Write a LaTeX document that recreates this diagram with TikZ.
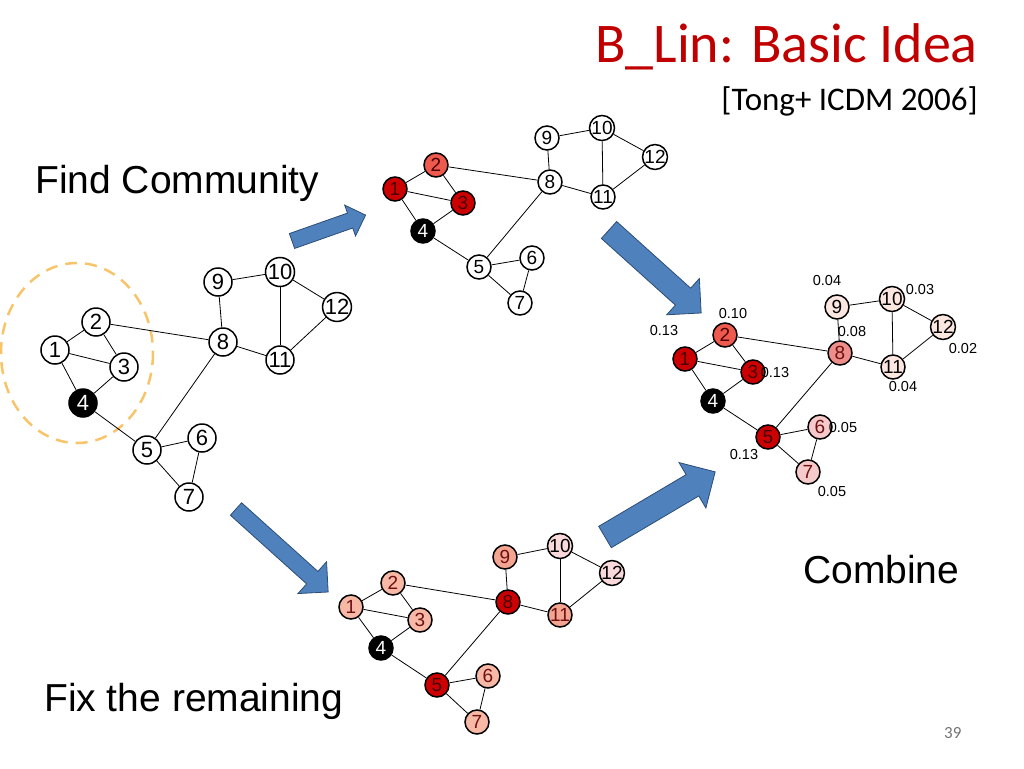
\documentclass[tikz,border=0pt]{standalone}
\usepackage{fontspec}
\setmainfont{Liberation Sans}
\newfontfamily\slidefont{Carlito}
\usetikzlibrary{shapes.arrows}

\definecolor{titlered}{HTML}{C00000}
\definecolor{arrowblue}{HTML}{4F81BD}
\definecolor{arrowline}{HTML}{2C4D75}
\definecolor{ringorange}{HTML}{F7C46A}
\definecolor{hot}{HTML}{CC0000}
\definecolor{warm}{HTML}{EE5A4E}
\definecolor{mid}{HTML}{EE8E8A}
\definecolor{pale}{HTML}{F6CACA}
\definecolor{faint}{HTML}{FCE6E0}
\definecolor{salmon}{HTML}{F7B8A6}
\definecolor{salmondeep}{HTML}{F3A592}
\definecolor{blush}{HTML}{F9D9DA}
\definecolor{inkred}{HTML}{6E1010}
\definecolor{inkdark}{HTML}{4A0000}

\tikzstyle{vtx}=[circle, draw, line width=1.5pt, fill=white, inner sep=0pt,
		minimum size=24pt, font=\fontsize{19}{19}\selectfont]
\tikzstyle{bigvtx}=[vtx, minimum size=28pt, font=\fontsize{22}{22}\selectfont]
\tikzstyle{seed}=[fill=black, text=white]
\tikzstyle{link}=[-, line width=0.8pt]
\tikzstyle{bigarrow}=[single arrow, draw=arrowline, fill=arrowblue,
		line width=0.8pt, inner xsep=0pt, outer sep=0pt, anchor=tail]
\tikzstyle{score}=[font=\fontsize{14.5}{14.5}\selectfont, inner sep=0pt]
\tikzstyle{caption}=[font=\fontsize{39}{39}\selectfont, anchor=base west,
		inner sep=0pt]

\begin{document}
\begin{tikzpicture}[x=1pt, y={(0pt,-1pt)}]

  \useasboundingbox (0,0) rectangle (1024,768);

  % title
  \node (Ttl) [anchor=base east, inner sep=0pt, text=titlered,
    font=\slidefont\fontsize{56}{56}\selectfont] at (978,63) {B\_Lin: Basic Idea};
  \node (Ref) [anchor=base east, inner sep=0pt,
    font=\slidefont\fontsize{33}{33}\selectfont] at (978,110) {[Tong+ ICDM 2006]};
  \node (Pg) [anchor=base west, inner sep=0pt, text=black!55,
    font=\slidefont\fontsize{17}{17}\selectfont] at (944,738) {39};

  % captions
  \node (Find) [caption] at (35,193) {Find Community};
  \node (Fix) [caption] at (44,711) {Fix the remaining};
  \node (Comb) [caption] at (803,583) {Combine};

  % input graph
  \draw [ringorange, line width=2.5pt, dash pattern=on 12pt off 8pt]
    (77,353) ellipse [x radius=76, y radius=90];
  \node (a1) [bigvtx] at (55,350) {1};
  \node (a2) [bigvtx] at (96,322) {2};
  \node (a3) [bigvtx] at (124,367) {3};
  \node (a4) [bigvtx, seed] at (83,403) {4};
  \node (a5) [bigvtx] at (147,450) {5};
  \node (a6) [bigvtx] at (202,438) {6};
  \node (a7) [bigvtx] at (189,497) {7};
  \node (a8) [bigvtx] at (223,342) {8};
  \node (a9) [bigvtx] at (218,282) {9};
  \node (a10) [bigvtx] at (280,272) {10};
  \node (a11) [bigvtx] at (280,360) {11};
  \node (a12) [bigvtx] at (337,307) {12};

  % community
  \node (f1) [vtx, fill=hot, text=inkdark] at (395,189) {1};
  \node (f2) [vtx, fill=warm, text=inkdark] at (436,165) {2};
  \node (f3) [vtx, fill=hot, text=inkdark] at (463,203) {3};
  \node (f4) [vtx, seed] at (423,231) {4};
  \node (f5) [vtx] at (479,267) {5};
  \node (f6) [vtx] at (532,258) {6};
  \node (f7) [vtx] at (520,303) {7};
  \node (f8) [vtx] at (550,182) {8};
  \node (f9) [vtx] at (547,138) {9};
  \node (f10) [vtx] at (602,128) {10};
  \node (f11) [vtx] at (603,197) {11};
  \node (f12) [vtx] at (655,157) {12};

  % remaining
  \node (r1) [vtx, fill=salmon, text=inkred] at (351,607) {1};
  \node (r2) [vtx, fill=salmon, text=inkred] at (393,583) {2};
  \node (r3) [vtx, fill=salmon, text=inkred] at (420,620) {3};
  \node (r4) [vtx, seed] at (381,648) {4};
  \node (r5) [vtx, fill=hot, text=inkdark] at (437,685) {5};
  \node (r6) [vtx, fill=salmon, text=inkred] at (488,676) {6};
  \node (r7) [vtx, fill=salmon, text=inkred] at (477,722) {7};
  \node (r8) [vtx, fill=hot, text=inkdark] at (508,602) {8};
  \node (r9) [vtx, fill=salmondeep, text=inkred] at (505,557) {9};
  \node (r10) [vtx, fill=blush] at (560,546) {10};
  \node (r11) [vtx, fill=salmondeep, text=inkred] at (560,615) {11};
  \node (r12) [vtx, fill=blush] at (612,573) {12};

  % combined
  \node (c1) [vtx, fill=hot, text=inkdark] at (685,359) {1};
  \node (c2) [vtx, fill=warm, text=inkdark] at (725,335) {2};
  \node (c3) [vtx, fill=hot, text=inkdark] at (753,372) {3};
  \node (c4) [vtx, seed] at (713,401) {4};
  \node (c5) [vtx, fill=hot, text=inkdark] at (768,437) {5};
  \node (c6) [vtx, fill=pale, text=inkred] at (820,427) {6};
  \node (c7) [vtx, fill=pale, text=inkred] at (808,472) {7};
  \node (c8) [vtx, fill=mid, text=inkred] at (840,353) {8};
  \node (c9) [vtx, fill=faint] at (837,307) {9};
  \node (c10) [vtx, fill=faint] at (892,299) {10};
  \node (c11) [vtx, fill=faint] at (893,367) {11};
  \node (c12) [vtx, fill=faint] at (943,327) {12};

  \foreach \g in {a,f,r,c}
    \foreach \u/\v in {1/2,1/3,2/3,1/4,3/4,4/5,2/8,5/8,5/6,5/7,6/7,
                       8/9,8/11,9/10,10/11,10/12,11/12}
      \draw [link] (\g\u) -- (\g\v);

  % scores
  \node (s1) [score] at (664,331) {0.13};
  \node (s2) [score] at (733,314) {0.10};
  \node (s3) [score] at (775,373) {0.13};
  \node (s5) [score] at (744,455) {0.13};
  \node (s6) [score] at (843,428) {0.05};
  \node (s7) [score] at (832,492) {0.05};
  \node (s8) [score] at (852,332) {0.08};
  \node (s9) [score] at (827,281) {0.04};
  \node (s10) [score] at (920,290) {0.03};
  \node (s11) [score] at (903,387) {0.04};
  \node (s12) [score] at (963,349) {0.02};

  % block arrows
  \node (Ar1) [bigarrow, rotate=19.4, minimum height=78pt, inner ysep=7.5pt,
    single arrow head extend=8.5pt] at (292,241) {};
  \node (Ar2) [bigarrow, rotate=-42, minimum height=124pt, inner ysep=11pt,
    single arrow head extend=13pt] at (609,230) {};
  \node (Ar3) [bigarrow, rotate=-42, minimum height=124pt, inner ysep=8pt,
    single arrow head extend=13pt] at (236,509) {};
  \node (Ar4) [bigarrow, rotate=30.6, minimum height=128pt, inner ysep=12pt,
    single arrow head extend=14pt] at (605,537) {};

\end{tikzpicture}
\end{document}
